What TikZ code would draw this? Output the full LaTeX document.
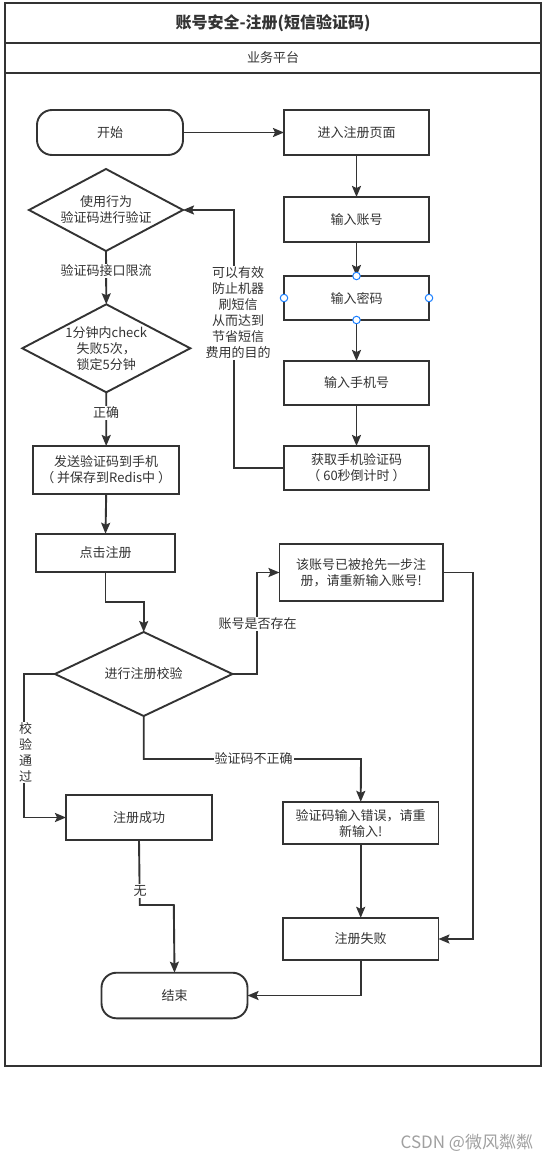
\documentclass[tikz,border=0pt]{standalone}
\usepackage{fontspec}
\setmainfont{Noto Sans CJK SC}
\usetikzlibrary{shapes.geometric,arrows.meta}
\definecolor{ink}{HTML}{333333}
\definecolor{handle}{HTML}{1A7FFF}
\definecolor{wm}{HTML}{A0A0A0}
\begin{document}
\begin{tikzpicture}[x=1pt,y=-1pt,
  every node/.style={text=ink, font=\fontsize{13}{16}\selectfont, inner sep=0pt, outer sep=0pt},
  stepbox/.style={draw=ink, line width=1.9pt, rectangle, align=center, fill=white},
  term/.style={stepbox, rounded corners=15pt},
  decide/.style={draw=ink, line width=1.9pt, diamond, fill=white},
  conn/.style={draw=ink, line width=1.9pt, -{Stealth[length=11pt,width=9pt,inset=2pt]}},
  lbl/.style={fill=white, align=center, inner sep=1pt},
  handlept/.style={circle, draw=handle, fill=white, line width=1pt, minimum size=7.5pt}
]
\fill[white] (0,0) rectangle (545,1161);
\path[use as bounding box] (0,0) rectangle (545,1161);

% frame
\draw[draw=ink, line width=2pt] (5,3) rectangle (541,1066);
\draw[draw=ink, line width=2pt] (5,43) -- (541,43);
\draw[draw=ink, line width=2pt] (5,73) -- (541,73);
\node[font=\fontsize{16}{19}\selectfont\bfseries] (title) at (273,23) {账号安全-注册(短信验证码)};
\node (lane) at (273,58) {业务平台};

% nodes
\node[term, minimum width=146pt, minimum height=45pt] (start) at (110,132.5) {开始};
\node[stepbox, minimum width=145pt, minimum height=45pt] (page) at (356.5,132.5) {进入注册页面};
\node[stepbox, minimum width=145pt, minimum height=45pt] (acct) at (356.5,219.5) {输入账号};
\node[stepbox, minimum width=145pt, minimum height=44pt] (pwd) at (356.5,298) {输入密码};
\node[stepbox, minimum width=145pt, minimum height=44pt] (phone) at (356.5,383) {输入手机号};
\node[stepbox, minimum width=145pt, minimum height=44pt] (code) at (356.5,468) {获取手机验证码\\（ 60秒倒计时 ）};

\node[decide, minimum width=154pt, minimum height=82pt,
  label={[align=center]center:{使用行为\\验证码进行验证}}] (d1) at (106,210) {};
\node[decide, minimum width=168pt, minimum height=88pt,
  label={[align=center]center:{1分钟内check\\失败5次，\\锁定5分钟}}] (d2) at (106.3,348.3) {};
\node[stepbox, minimum width=146pt, minimum height=48pt] (send) at (106.2,470) {发送验证码到手机\\（ 并保存到Redis中 ）};
\node[stepbox, minimum width=139pt, minimum height=38.5pt] (click) at (105.5,553) {点击注册};
\node[decide, minimum width=177.5pt, minimum height=84pt,
  label={[align=center]center:{进行注册校验}}] (d3) at (143.7,674) {};

\node[stepbox, minimum width=163.5pt, minimum height=57pt] (exists) at (361.2,572.5) {该账号已被抢先一步注\\册，请重新输入账号!};
\node[stepbox, minimum width=146pt, minimum height=45pt] (success) at (139,817.5) {注册成功};
\node[stepbox, minimum width=155.5pt, minimum height=42.3pt] (wrong) at (360.7,823) {验证码输入错误，请重\\新输入!};
\node[stepbox, minimum width=155.5pt, minimum height=42.3pt] (fail) at (360.7,939) {注册失败};
\node[term, minimum width=146pt, minimum height=45.6pt] (end) at (174.5,995.5) {结束};

% helper coordinates
\coordinate (fb) at (233.6,210);
\coordinate (c1) at (143.7,602);
\coordinate (c2) at (257,674);
\coordinate (c3) at (473,572.5);
\coordinate (c4) at (23.8,674);
\coordinate (c5) at (143.7,759);
\coordinate (c6) at (361,759);
\coordinate (c7) at (139.8,905);
\coordinate (c8) at (173.8,905);

% connectors
\draw[conn] (start.east) -- (page.west);
\draw[conn] (page.south) -- (acct.north);
\draw[conn] (acct.south) -- (pwd.north);
\draw[conn] (pwd.south) -- (phone.north);
\draw[conn] (phone.south) -- (code.north);
\draw[conn] (code.west) -| (fb) -- (d1.east);
\draw[conn] (d1.south) -- (d2.north);
\draw[conn] (d2.south) -- (send.north);
\draw[conn] (send.south) -- (click.north);
\draw[conn] (click.south) |- (c1) -- (d3.north);
\draw[conn] (d3.east) -- (c2) |- (exists.west);
\draw[conn] (exists.east) -- (c3) |- (fail.east);
\draw[conn] (d3.west) -- (c4) |- (success.west);
\draw[conn] (d3.south) -- (c5) -- (c6) -- (wrong.north);
\draw[conn] (success.south) -- (c7) -- (c8) -- (end.north);
\draw[conn] (wrong.south) -- (fail.north);
\draw[conn] (fail.south) |- (end.east);

% edge labels
\node[lbl] (l1) at (238,313) {可以有效\\防止机器\\刷短信\\从而达到\\节省短信\\费用的目的};
\node[lbl] (l2) at (106,271) {验证码接口限流};
\node[lbl] (l3) at (106,413) {正确};
\node[lbl] (l4) at (257.7,624) {账号是否存在};
\node[lbl] (l5) at (25.5,752.5) {校\\验\\通\\过};
\node[lbl] (l6) at (253.5,759) {验证码不正确};
\node[lbl] (l7) at (140,891) {无};

% selection handles on pwd
\node[handlept] (h1) at (pwd.north) {};
\node[handlept] (h2) at (pwd.south) {};
\node[handlept] (h3) at (pwd.west) {};
\node[handlept] (h4) at (pwd.east) {};

% watermark
\node[text=wm, font=\fontsize{17}{20}\selectfont, anchor=east] (wmark) at (533,1143) {CSDN @微风粼粼};
\end{tikzpicture}
\end{document}
